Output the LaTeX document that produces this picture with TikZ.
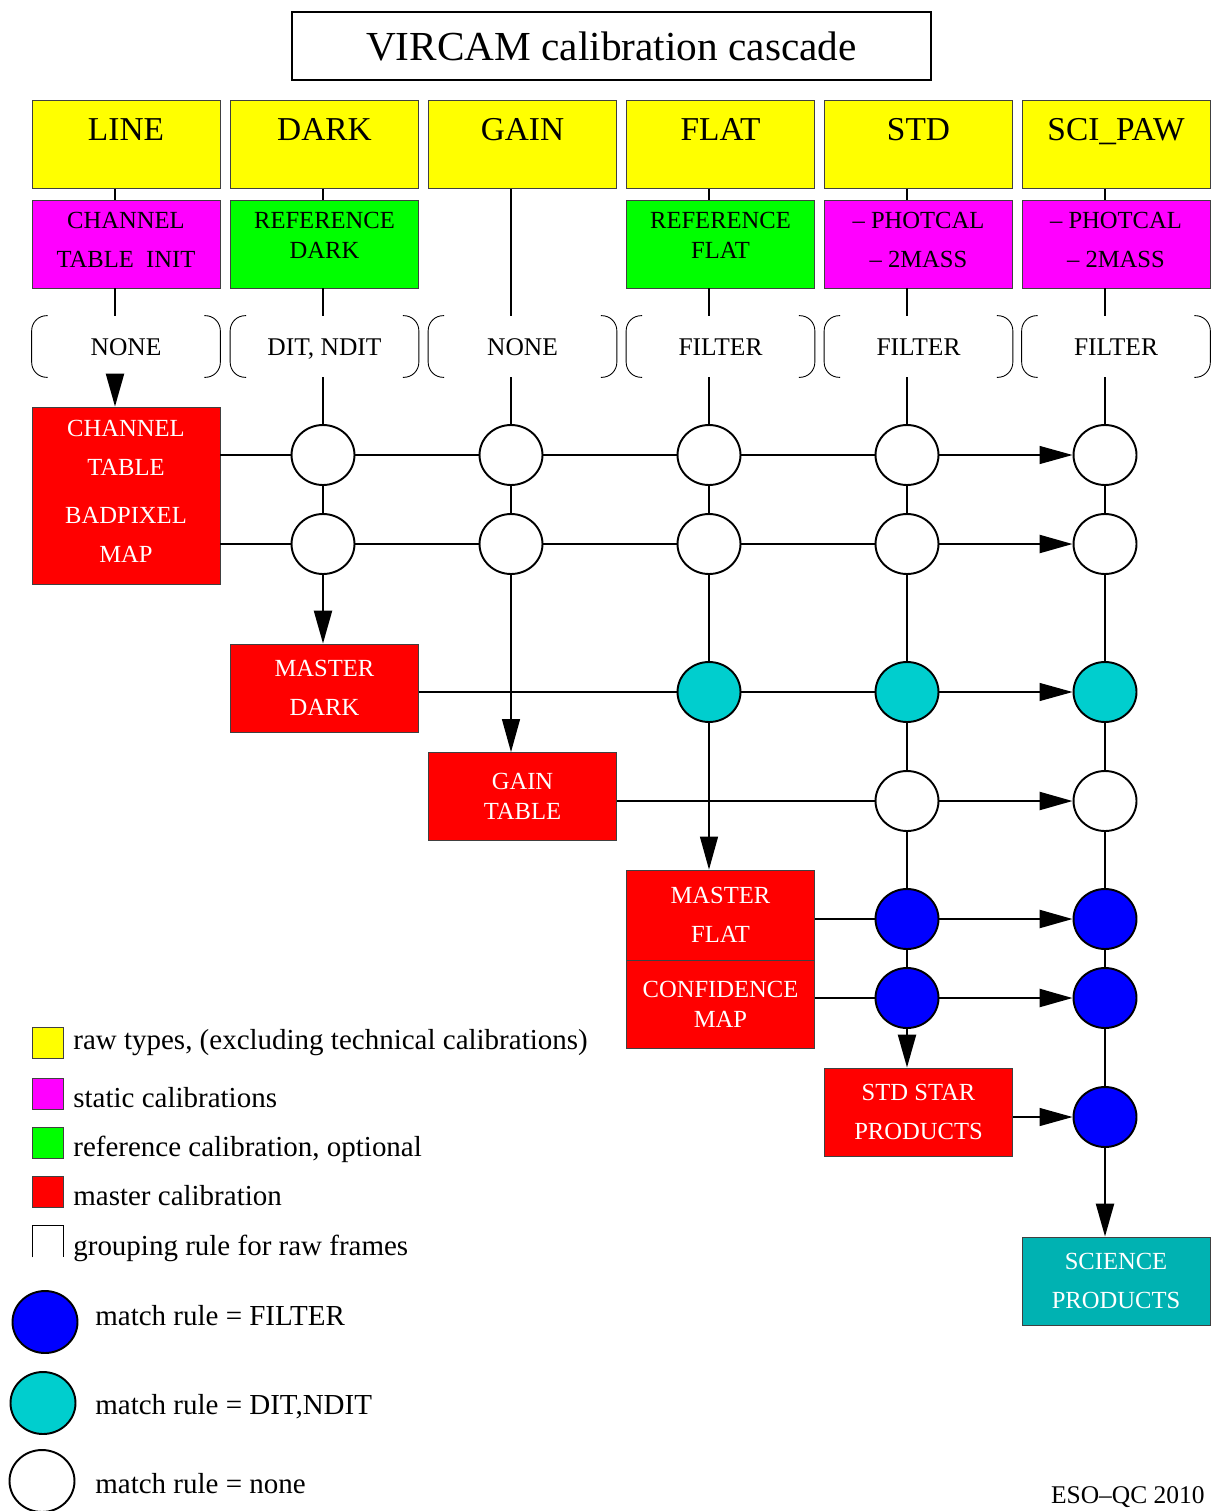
\documentclass[tikz,border=0pt]{standalone}
\usepackage{fontspec}
\setmainfont{Liberation Serif}
\usetikzlibrary{arrows.meta,shapes.geometric}

\definecolor{rawyellow}{RGB}{255,255,0}
\definecolor{statmagenta}{RGB}{255,0,255}
\definecolor{refgreen}{RGB}{0,255,0}
\definecolor{mastred}{RGB}{255,0,0}
\definecolor{filtblue}{RGB}{0,0,255}
\definecolor{ditcyan}{RGB}{0,206,206}
\definecolor{prodcyan}{RGB}{0,178,178}

\tikzset{
  box/.style={rectangle, draw=black!75, line width=0.5pt, minimum width=3.76cm,
    minimum height=1.76cm, inner sep=0pt, align=center},
  raw/.style={box, fill=rawyellow, font=\fontsize{19}{21}\selectfont,
    text height=0.46cm, text depth=0.62cm},
  static/.style={box, fill=statmagenta, font=\fontsize{14}{22}\selectfont, text depth=0.16cm},
  refcal/.style={box, fill=refgreen, font=\fontsize{14}{17}\selectfont, text depth=0.36cm},
  master/.style={box, fill=mastred, text=white, font=\fontsize{14}{22}\selectfont},
  product/.style={master, fill=prodcyan},
  group/.style={minimum width=3.76cm, minimum height=1.22cm, inner sep=0pt,
    font=\fontsize{14.5}{16}\selectfont, text height=0.34cm, text depth=0cm},
  bracket/.style={line width=0.5pt, rounded corners=0.3cm},
  match/.style={ellipse, draw, line width=1.1pt, minimum width=1.26cm,
    minimum height=1.2cm, inner sep=0pt},
  nomatch/.style={match, fill=white},
  ditmatch/.style={match, fill=ditcyan},
  filtmatch/.style={match, fill=filtblue},
  thinln/.style={line width=0.7pt},
  thickln/.style={line width=1.3pt},
  tip/.style={-{Triangle[length=0.66cm,width=0.36cm]}},
  legsq/.style={rectangle, draw=black!75, line width=0.5pt, minimum size=0.62cm, inner sep=0pt},
  legtxt/.style={anchor=base west, inner sep=0pt, font=\fontsize{16.5}{18}\selectfont},
  legcirc/.style={minimum width=1.3cm, minimum height=1.24cm}
}

\begin{document}
\begin{tikzpicture}[x=0.02cm, y=-0.02cm]
\useasboundingbox (0,0) rectangle (1211,1511);

% title
\node[draw, line width=1.1pt, minimum width=12.78cm, minimum height=1.36cm, inner sep=0pt,
  font=\fontsize{23.5}{26}\selectfont] (title) at (611.5,46) {VIRCAM calibration cascade};

% column lines
\foreach \nm/\x in {LINE/115, DARK/323, GAIN/511, FLAT/709, STD/907, SCI/1105}
  \coordinate (c\nm) at (\x,0);

% raw types
\foreach \nm/\x/\txt in {LINE/126/LINE, DARK/324.5/DARK, GAIN/522.5/GAIN,
    FLAT/720.5/FLAT, STD/918.5/STD, SCI/1116/SCI\_PAW}
  \node[raw] (y\nm) at (\x,144.5) {\txt};

% static and reference calibrations
\node[static] (sLINE) at (126,244) {CHANNEL\\TABLE\ \ INIT};
\node[refcal] (sDARK) at (324.5,244) {REFERENCE\\DARK};
\node[refcal] (sFLAT) at (720.5,244) {REFERENCE\\FLAT};
\node[static] (sSTD) at (918.5,244) {-- PHOTCAL\\-- 2MASS};
\node[static] (sSCI) at (1116,244) {-- PHOTCAL\\-- 2MASS};

% grouping rules
\foreach \nm/\x/\txt in {LINE/126/NONE, DARK/324.5/{DIT, NDIT}, GAIN/522.5/NONE,
    FLAT/720.5/FILTER, STD/918.5/FILTER, SCI/1116/FILTER} {
  \node[group] (g\nm) at (\x,346.5) {\txt};
  \draw[bracket] ([xshift=0.32cm]g\nm.north west) -- (g\nm.north west)
    -- (g\nm.south west) -- ([xshift=0.32cm]g\nm.south west);
  \draw[bracket] ([xshift=-0.32cm]g\nm.north east) -- (g\nm.north east)
    -- (g\nm.south east) -- ([xshift=-0.32cm]g\nm.south east);
}

% master calibrations
\node[master, minimum height=3.54cm, text depth=0.16cm] (ctab) at (126,495.5)
  {CHANNEL\\TABLE\\[0.2cm]BADPIXEL\\MAP};
\node[master] (mdark) at (324.5,688) {MASTER\\DARK};
\node[master, font=\fontsize{14}{17}\selectfont] (gtab) at (522.5,796.5) {GAIN\\TABLE};
\node[master, minimum height=1.8cm] (mflat) at (720.5,915) {MASTER\\FLAT};
\node[master, font=\fontsize{14}{17}\selectfont] (cmap) at (720.5,1004) {CONFIDENCE\\MAP};
\node[master] (stdprod) at (918.5,1112) {STD STAR\\PRODUCTS};
\node[product] (sciprod) at (1116,1281) {SCIENCE\\PRODUCTS};

% match rules
\foreach \nm/\x/\y/\st in {dk1/323/455/nomatch, gn1/511/455/nomatch, fl1/709/455/nomatch,
    sd1/907/455/nomatch, sc1/1105/455/nomatch,
    dk2/323/544/nomatch, gn2/511/544/nomatch, fl2/709/544/nomatch,
    sd2/907/544/nomatch, sc2/1105/544/nomatch,
    fl3/709/692/ditmatch, sd3/907/692/ditmatch, sc3/1105/692/ditmatch,
    sd4/907/801/nomatch, sc4/1105/801/nomatch,
    sd5/907/919/filtmatch, sc5/1105/919/filtmatch,
    sd6/907/998/filtmatch, sc6/1105/998/filtmatch,
    sc7/1105/1117/filtmatch}
  \node[\st] (\nm) at (\x,\y) {};

% top connectors
\foreach \nm in {LINE,DARK,FLAT,STD,SCI}
  \draw[thinln] (y\nm.south -| c\nm) -- (s\nm.north -| c\nm);
\draw[thinln] (yGAIN.south -| cGAIN) -- (gGAIN.north -| cGAIN);
\foreach \nm/\w in {LINE/thickln, DARK/thickln, FLAT/thinln, STD/thickln, SCI/thickln}
  \draw[\w] (s\nm.south -| c\nm) -- (g\nm.north -| c\nm);

% columns
\draw[thickln,tip] (gLINE.south -| cLINE) -- (ctab.north -| cLINE);
\draw[thickln] (gDARK.south -| cDARK) -- (dk1) (dk1) -- (dk2);
\draw[thickln,tip] (dk2) -- (mdark.north -| cDARK);
\draw[thinln] (gGAIN.south -| cGAIN) -- (gn1) (gn1) -- (gn2);
\draw[thinln,tip] (gn2) -- (gtab.north -| cGAIN);
\draw[thinln] (gFLAT.south -| cFLAT) -- (fl1) (fl1) -- (fl2) (fl2) -- (fl3);
\draw[thinln,tip] (fl3) -- (mflat.north -| cFLAT);
\draw[thickln] (gSTD.south -| cSTD) -- (sd1) (sd1) -- (sd2) (sd2) -- (sd3)
  (sd3) -- (sd4) (sd4) -- (sd5) (sd5) -- (sd6);
\draw[thickln,tip] (sd6) -- (stdprod.north -| cSTD);
\draw[thickln] (gSCI.south -| cSCI) -- (sc1) (sc1) -- (sc2) (sc2) -- (sc3)
  (sc3) -- (sc4) (sc4) -- (sc5) (sc5) -- (sc6) (sc6) -- (sc7);
\draw[thickln,tip] (sc7) -- (sciprod.north -| cSCI);

% rows
\draw[thinln] (ctab.east |- dk1) -- (dk1) (dk1) -- (gn1) (gn1) -- (fl1) (fl1) -- (sd1);
\draw[thinln,tip] (sd1) -- (sc1);
\draw[thickln] (ctab.east |- dk2) -- (dk2) (dk2) -- (gn2) (gn2) -- (fl2) (fl2) -- (sd2);
\draw[thickln,tip] (sd2) -- (sc2);
\draw[thinln] (mdark.east |- fl3) -- (fl3) (fl3) -- (sd3);
\draw[thinln,tip] (sd3) -- (sc3);
\draw[thickln] (gtab.east |- sd4) -- (sd4);
\draw[thickln,tip] (sd4) -- (sc4);
\draw[thickln] (mflat.east |- sd5) -- (sd5);
\draw[thickln,tip] (sd5) -- (sc5);
\draw[thickln] (cmap.east |- sd6) -- (sd6);
\draw[thickln,tip] (sd6) -- (sc6);
\draw[thinln,tip] (stdprod.east |- sc7) -- (sc7);

% legend
\node[legsq, fill=rawyellow] (kraw) at (48,1043) {};
\node[legsq, fill=statmagenta] (kstat) at (48,1093.5) {};
\node[legsq, fill=refgreen] (kref) at (48,1142.5) {};
\node[legsq, fill=mastred] (kmast) at (48,1192) {};
\node[legsq, draw=none] (kgrp) at (48,1241.5) {};
\draw[line width=0.5pt] (kgrp.south west) -- (kgrp.north west) -- (kgrp.north east) -- (kgrp.south east);
\node[legtxt] (traw) at (73,1049) {raw types, (excluding technical calibrations)};
\node[legtxt] (tstat) at (73,1107) {static calibrations};
\node[legtxt] (tref) at (73,1156) {reference calibration, optional};
\node[legtxt] (tmast) at (73,1205) {master calibration};
\node[legtxt] (tgrp) at (73,1255) {grouping rule for raw frames};

\node[filtmatch, legcirc] (kfilt) at (45,1322) {};
\node[ditmatch, legcirc] (kdit) at (43,1403) {};
\node[nomatch, legcirc] (knone) at (42,1481) {};
\node[legtxt] (tfilt) at (95,1325) {match rule = FILTER};
\node[legtxt] (tdit) at (95,1414) {match rule = DIT,NDIT};
\node[legtxt] (tnone) at (95,1493) {match rule = none};

\node[anchor=base east, inner sep=0pt, font=\fontsize{14.5}{16}\selectfont] (credit)
  at (1205,1503) {ESO--QC 2010};
\end{tikzpicture}
\end{document}
